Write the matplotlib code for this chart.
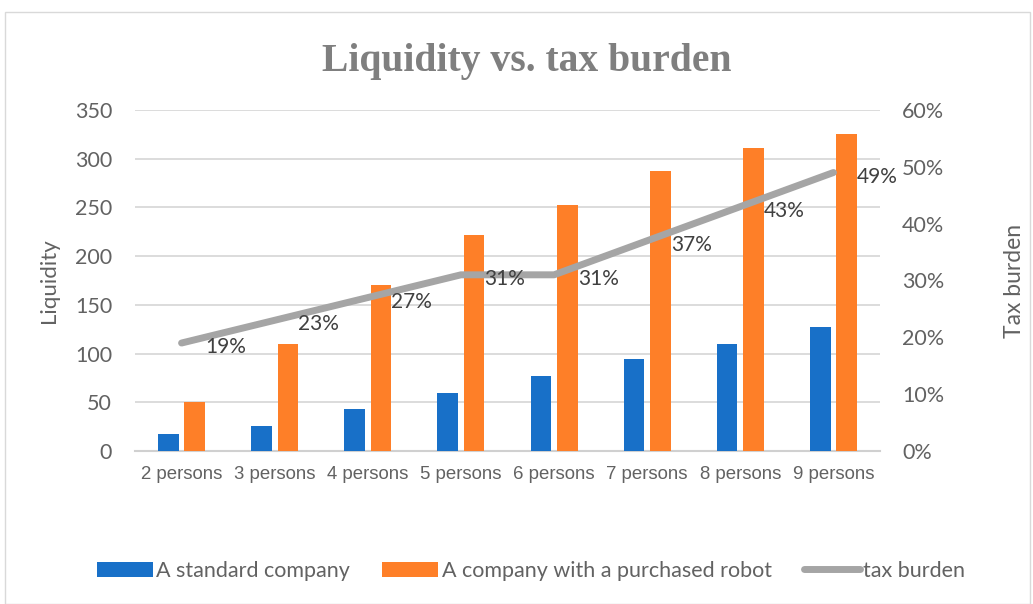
import numpy as np
import matplotlib
matplotlib.use("Agg")
import matplotlib.pyplot as plt
from matplotlib.patches import Rectangle
from matplotlib.ticker import FuncFormatter

categories = ['2 persons', '3 persons', '4 persons', '5 persons',
              '6 persons', '7 persons', '8 persons', '9 persons']
standard = [17, 26, 43, 60, 77, 94, 110, 127]
robot = [50, 110, 170, 222, 253, 287, 311, 325]
tax = [0.19, 0.23, 0.27, 0.31, 0.31, 0.37, 0.43, 0.49]

blue = '#1870c8'
orange = '#fe7f28'
gray_line = '#a5a5a5'
txt = '#626262'

plt.rcParams['font.family'] = ['Lato', 'DejaVu Sans']

fig = plt.figure(figsize=(10.33, 6.04), dpi=100)
fig.patches.append(Rectangle((5 / 1033, 0), 1025 / 1033, 1 - 12 / 604,
                             transform=fig.transFigure, fill=False,
                             edgecolor='#d9d9d9', linewidth=1))

ax = fig.add_axes([135 / 1033, 1 - 451 / 604, 745 / 1033, 341 / 604])
x = np.arange(len(categories))
w = 0.222
ax.bar(x - 0.142, standard, w, color=blue, label='A standard company', zorder=3)
ax.bar(x + 0.142, robot, w, color=orange, label='A company with a purchased robot', zorder=3)

ax.set_xlim(-0.5, len(categories) - 0.5)
ax.set_ylim(0, 350)
ax.set_yticks(range(0, 351, 50))
ax.set_xticks(x)
ax.set_xticklabels(categories, family='Liberation Sans', fontsize=13.4)
ax.grid(axis='y', color='#d9d9d9', linewidth=1.3, zorder=0)
for s in ['top', 'right', 'left']:
    ax.spines[s].set_visible(False)
ax.spines['bottom'].set_color('#d0d0d0')
ax.spines['bottom'].set_linewidth(1.5)
ax.tick_params(axis='both', length=0, colors=txt)
ax.tick_params(axis='y', labelsize=15.5, pad=16.5)
ax.tick_params(axis='x', pad=11)
ax.set_ylabel('Liquidity', fontsize=16, color=txt, labelpad=11)

ax2 = ax.twinx()
ax2.plot(x, tax, color=gray_line, linewidth=5, solid_capstyle='round',
         label='tax burden', zorder=4)
ax2.set_ylim(0, 0.6)
ax2.set_yticks(np.arange(0, 0.61, 0.1))
ax2.yaxis.set_major_formatter(FuncFormatter(lambda v, p: f'{v * 100:.0f}%'))
for s in ['top', 'right', 'left', 'bottom']:
    ax2.spines[s].set_visible(False)
ax2.tick_params(axis='y', length=0, colors=txt, labelsize=15.5, pad=16)
ax2.set_ylabel('Tax burden', fontsize=16.5, color=txt, labelpad=43)

for xi, t in zip(x, tax):
    ax2.annotate(f'{t * 100:.0f}%', (xi, t), xytext=(17, -3), textcoords='offset points',
                 ha='left', va='center', fontsize=15, color='#404040', zorder=5)

fig.text(0.51, 1 - 62 / 604, 'Liquidity vs. tax burden', ha='center', va='center',
         fontsize=28.5, fontweight='bold', color='#7f7f7f', family='Liberation Serif')

h1, l1 = ax.get_legend_handles_labels()
h2, l2 = ax2.get_legend_handles_labels()
fig.legend(h1 + h2, l1 + l2, loc='center', bbox_to_anchor=(0.514, 1 - 571 / 604),
           ncol=3, frameon=False, fontsize=15.5, labelcolor=txt,
           handlelength=2.6, handletextpad=0.15, columnspacing=1.5)

fig.savefig('out.png', dpi=100)
